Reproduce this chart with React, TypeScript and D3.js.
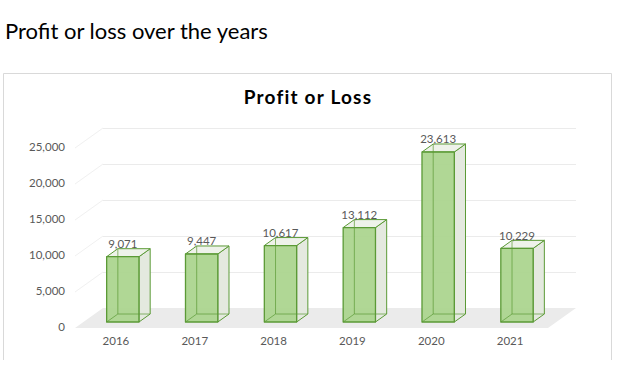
import React from "react";
import * as d3 from "d3";

const years = ["2016", "2017", "2018", "2019", "2020", "2021"];
const profits = [9071, 9447, 10617, 13112, 23613, 10229];
const yTicks = [0, 5000, 10000, 15000, 20000, 25000];

const W = 622;
const H = 377;
// plot geometry
const frontX0 = 75;
const frontX1 = 548;
const floorY = 328;
const DX = 28; // full depth offset x
const DY = -20; // full depth offset y
const barD0 = 0.3;
const barD1 = 0.7;

const x = d3.scaleBand<string>().domain(years).range([frontX0, frontX1]).padding(0);
const yH = d3.scaleLinear().domain([0, 25000]).range([0, 180]);
const fmt = d3.format(",");

const proj = (px: number, v: number, d: number): [number, number] => [px + DX * d, floorY - yH(v) + DY * d];
const pts = (arr: [number, number][]) => arr.map((p) => p.join(",")).join(" ");
const FONT = "Lato, 'Open Sans', sans-serif";

export default function App() {
  const bw = x.bandwidth() * 0.41;
  return (
    <svg width={W} height={H} style={{ position: "absolute", left: 0, top: 0, background: "#fff" }}>
      <text x={5} y={39} fontFamily={FONT} fontSize={22} fill="#000">
        Profit or loss over the years
      </text>
      {/* frame */}
      <path d="M3.5,360 V73.5 H611.5 V360" fill="none" stroke="#d9d9d9" strokeWidth={1} />
      <text x={308} y={104} textAnchor="middle" fontFamily={FONT} fontWeight="bold" fontSize={19} letterSpacing={1.2} fill="#000">
        Profit or Loss
      </text>
      {/* floor */}
      <polygon
        points={pts([proj(frontX0, 0, 0), proj(frontX1, 0, 0), proj(frontX1, 0, 1), proj(frontX0, 0, 1)])}
        fill="#ebebeb"
      />
      {/* gridlines */}
      {yTicks.filter((t) => t > 0).map((t) => {
        const a = proj(frontX0, t, 0);
        const b = proj(frontX0, t, 1);
        const c = proj(frontX1, t, 1);
        return (
          <g key={t}>
            <line x1={a[0]} y1={a[1]} x2={b[0]} y2={b[1]} stroke="#f0f0f0" strokeWidth={1} />
            <line x1={b[0]} y1={b[1] + 0.5} x2={c[0]} y2={c[1] + 0.5} stroke="#ebebeb" strokeWidth={1} />
          </g>
        );
      })}
      {/* y tick labels */}
      {yTicks.map((t) => {
        const p = proj(frontX0, t, 0);
        return (
          <text key={t} x={65} y={p[1] + 0.5} textAnchor="end" dominantBaseline="middle" fontFamily={FONT} fontSize={11.5} fill="#595959">
            {fmt(t)}
          </text>
        );
      })}
      {/* x labels */}
      {years.map((yr) => (
        <text key={yr} x={(x(yr) as number) + x.bandwidth() / 2 + 1.5} y={342} textAnchor="middle" dominantBaseline="middle" fontFamily={FONT} fontSize={11.5} fill="#595959">
          {yr}
        </text>
      ))}
      {/* bars */}
      {years.map((yr, i) => {
        const v = profits[i];
        const cx = (x(yr) as number) + x.bandwidth() / 2;
        const l = cx - bw / 2;
        const r = cx + bw / 2;
        const fbl = proj(l, 0, barD0), fbr = proj(r, 0, barD0), ftl = proj(l, v, barD0), ftr = proj(r, v, barD0);
        const bbl = proj(l, 0, barD1), bbr = proj(r, 0, barD1), btl = proj(l, v, barD1), btr = proj(r, v, barD1);
        const stroke = "#5b9a36";
        return (
          <g key={yr}>
            {/* side face */}
            <polygon points={pts([fbr, bbr, btr, ftr])} fill="#e4e9df" stroke={stroke} strokeWidth={1} strokeLinejoin="round" />
            {/* top face */}
            <polygon points={pts([ftl, ftr, btr, btl])} fill="#eef2ea" stroke={stroke} strokeWidth={1} strokeLinejoin="round" />
            {/* front face */}
            <polygon points={pts([fbl, fbr, ftr, ftl])} fill="#a9d48c" fillOpacity={0.92} stroke={stroke} strokeWidth={1.3} strokeLinejoin="round" />
            {/* hidden edges */}
            <polyline points={pts([fbl, bbl, bbr])} fill="none" stroke={stroke} strokeOpacity={0.7} strokeWidth={1} />
            <line x1={bbl[0]} y1={bbl[1]} x2={btl[0]} y2={btl[1]} stroke={stroke} strokeOpacity={0.7} strokeWidth={1} />
            <text x={(ftl[0] + ftr[0]) / 2} y={ftl[1] - 11.5} textAnchor="middle" dominantBaseline="middle" fontFamily={FONT} fontSize={11.5} fill="#595959">
              {fmt(v)}
            </text>
          </g>
        );
      })}
    </svg>
  );
}
